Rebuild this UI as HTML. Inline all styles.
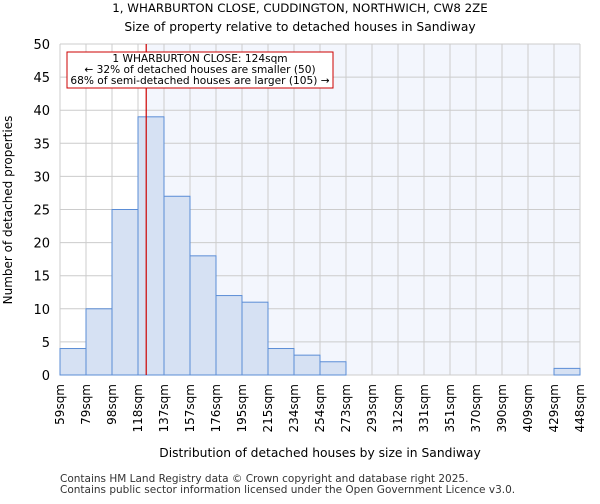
<!DOCTYPE html>
<html><head><meta charset="utf-8"><style>
body{margin:0;background:#fff;font-family:"DejaVu Sans","Liberation Sans",sans-serif;}
</style></head><body>
<svg width="600" height="500" xmlns="http://www.w3.org/2000/svg" font-family="DejaVu Sans, Liberation Sans, sans-serif">
<text x="300" y="12" text-anchor="middle" font-size="11.8">1, WHARBURTON CLOSE, CUDDINGTON, NORTHWICH, CW8 2ZE</text>
<text x="300" y="31" text-anchor="middle" font-size="12.3">Size of property relative to detached houses in Sandiway</text>
<rect x="147" y="44" width="433" height="331" fill="#f3f6fd"/>
<g id="grid"></g>
<g id="bars"></g>
<line id="marker" y1="44" y2="375" stroke="#cc0000" stroke-width="1.2"/>
<g id="yticks"></g>
<g id="xticks"></g>
<rect x="67" y="52" width="266" height="36" fill="#fff" stroke="#cc0000"/>
<text x="200" y="62" text-anchor="middle" font-size="10.6">1 WHARBURTON CLOSE: 124sqm</text>
<text x="200" y="73" text-anchor="middle" font-size="10.6">← 32% of detached houses are smaller (50)</text>
<text x="200" y="84" text-anchor="middle" font-size="10.6">68% of semi-detached houses are larger (105) →</text>
<text x="12" y="210" text-anchor="middle" font-size="12" transform="rotate(-90 12 210)">Number of detached properties</text>
<text x="320" y="457" text-anchor="middle" font-size="12.3">Distribution of detached houses by size in Sandiway</text>
<text x="60" y="482" font-size="10.5" fill="#333">Contains HM Land Registry data © Crown copyright and database right 2025.</text>
<text x="60" y="493" font-size="10.5" fill="#333">Contains public sector information licensed under the Open Government Licence v3.0.</text>
</svg>
<script>
const tickLabels=["59sqm","79sqm","98sqm","118sqm","137sqm","157sqm","176sqm","195sqm","215sqm","234sqm","254sqm","273sqm","293sqm","312sqm","331sqm","351sqm","370sqm","390sqm","409sqm","429sqm","448sqm"];
const counts=[4,10,25,39,27,18,12,11,4,3,2,0,0,0,0,0,0,0,0,1];
const yTicks=[0,5,10,15,20,25,30,35,40,45,50];
const propertySize=124;
const X0=60,X1=580,Y0=375,Y1=44,NS="http://www.w3.org/2000/svg";
const bw=(X1-X0)/counts.length;
const xi=i=>X0+i*bw;
const y=v=>Y0-(v/50)*(Y0-Y1);
const sizeToX=s=>{for(let i=0;i<tickLabels.length-1;i++){const a=parseFloat(tickLabels[i]),b=parseFloat(tickLabels[i+1]);if(s>=a&&s<=b)return xi(i)+(s-a)/(b-a)*bw;}return X1;};
function mk(t,a,p){const e=document.createElementNS(NS,t);for(const k in a)e.setAttribute(k,a[k]);p.appendChild(e);return e;}
const grid=document.getElementById('grid'),bars=document.getElementById('bars'),yt=document.getElementById('yticks'),xt=document.getElementById('xticks');
yTicks.forEach(v=>{
 const l=mk('line',{x1:X0,x2:X1,y1:y(v),y2:y(v),stroke:'#cccccc'},grid);
 
 
 const t=mk('text',{x:X0-10,y:y(v)+5,'text-anchor':'end','font-size':13},yt);
 t.textContent=v;
 
 
});
tickLabels.forEach((s,i)=>{
 const l=mk('line',{x1:xi(i),x2:xi(i),y1:Y1,y2:Y0,stroke:'#cccccc'},grid);
 
 
 const t=mk('text',{x:0,y:0,'text-anchor':'end','font-size':12,transform:`translate(${xi(i)+4},384) rotate(-90)`},xt);
 t.textContent=s;
 
 
});
const mx=sizeToX(propertySize);
const m=document.getElementById('marker');m.setAttribute('x1',mx);m.setAttribute('x2',mx);
counts.forEach((c,i)=>{
 if(c<=0)return;
 const r=mk('rect',{x:xi(i),y:y(c),width:bw,height:Y0-y(c),fill:'#d6e1f3',stroke:'#5b8dd6','stroke-width':1},bars);
 
 
});
</script>
</body></html>
